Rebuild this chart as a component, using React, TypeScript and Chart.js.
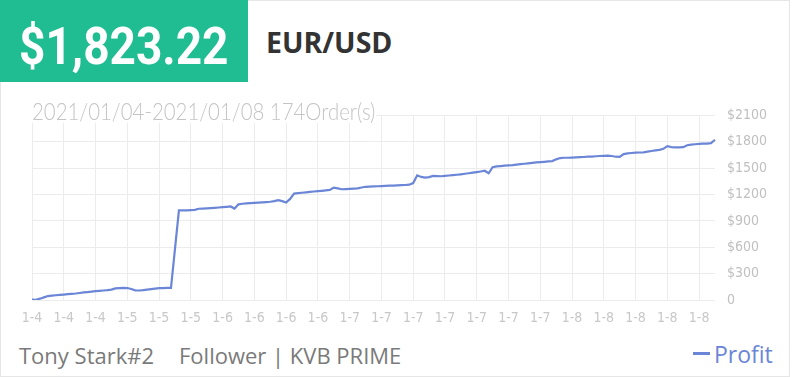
import React, { useEffect, useRef } from "react";
import { Chart, registerables } from "chart.js";

Chart.register(...registerables);

// ---- data ----
const tickLabels = [
  "1-4", "1-4", "1-4", "1-5", "1-5", "1-5", "1-6", "1-6", "1-6", "1-6", "1-7",
  "1-7", "1-7", "1-7", "1-7", "1-7", "1-7", "1-8", "1-8", "1-8", "1-8", "1-8",
];
const pointsPerTick = 8;

const profit = [
  5, 3, 15, 30, 45, 50, 54, 58, 62, 66,
  70, 74, 80, 86, 90, 95, 100, 104, 108, 112,
  118, 132, 136, 137, 136, 125, 110, 108, 112, 118,
  124, 130, 135, 136, 137, 137, 580, 1020, 1020, 1020,
  1022, 1025, 1038, 1040, 1042, 1045, 1048, 1052, 1056, 1060,
  1064, 1040, 1088, 1095, 1099, 1102, 1105, 1107, 1110, 1114,
  1118, 1125, 1135, 1125, 1108, 1150, 1210, 1215, 1220, 1225,
  1230, 1234, 1238, 1242, 1247, 1252, 1278, 1270, 1260, 1262,
  1265, 1268, 1270, 1280, 1288, 1290, 1292, 1294, 1296, 1298,
  1300, 1302, 1304, 1306, 1308, 1312, 1330, 1418, 1400, 1392,
  1398, 1412, 1410, 1408, 1412, 1416, 1420, 1425, 1430, 1436,
  1442, 1448, 1455, 1462, 1470, 1442, 1510, 1520, 1524, 1528,
  1532, 1535, 1540, 1545, 1550, 1555, 1560, 1565, 1568, 1572,
  1576, 1580, 1600, 1615, 1618, 1618, 1620, 1622, 1625, 1627,
  1630, 1632, 1635, 1638, 1640, 1642, 1638, 1630, 1628, 1660,
  1668, 1672, 1676, 1678, 1680, 1688, 1695, 1702, 1708, 1720,
  1750, 1740, 1736, 1736, 1738, 1760, 1768, 1772, 1776, 1778,
  1780, 1785, 1823,
];

const yMin = 0;
const yMax = 2100;
const yStep = 300;

const totalProfit = "$1,823.22";
const symbol = "EUR/USD";
const periodTitle = "2021/01/04-2021/01/08 174Order(s)";
const traderName = "Tony Stark#2";
const accountInfo = "Follower | KVB PRIME";
const seriesName = "Profit";

const pointLabels = profit.map((_, i) => tickLabels[Math.floor(i / pointsPerTick)]);

// ---- styles ----
const green = "#21bd92";
const lineColor = "#6b86d6";
const gridColor = "#ececec";
const narrow = "'DejaVu Sans Condensed', sans-serif";

export default function App() {
  const ref = useRef<HTMLCanvasElement>(null);

  useEffect(() => {
    document.body.style.margin = "0";
    const chart = new Chart(ref.current!, {
      type: "line",
      data: {
        labels: pointLabels,
        datasets: [
          {
            label: seriesName,
            data: profit,
            borderColor: lineColor,
            borderWidth: 2.2,
            pointRadius: 0,
            tension: 0,
            fill: false,
          },
        ],
      },
      options: {
        animation: false,
        responsive: false,
        maintainAspectRatio: false,
        layout: { padding: { left: 32, top: 16, right: 17, bottom: 0 } },
        plugins: { legend: { display: false }, tooltip: { enabled: false } },
        scales: {
          x: {
            grid: { color: gridColor, drawTicks: false },
            border: { display: false },
            ticks: {
              autoSkip: false,
              maxRotation: 0,
              padding: 10,
              color: "#c8c8c8",
              font: { family: narrow, size: 14 },
              callback: (_v: any, i: number) =>
                i % pointsPerTick === 0 ? pointLabels[i] : null,
            },
            afterFit: (s: any) => {
              s.height = 35;
            },
          },
          y: {
            position: "right",
            min: yMin,
            max: yMax,
            grid: { color: gridColor, drawTicks: false },
            border: { display: false },
            ticks: {
              stepSize: yStep,
              padding: 12,
              color: "#c0c0c0",
              font: { family: narrow, size: 14 },
              callback: (v: any) => (v === 0 ? "0" : "$" + v),
            },
            afterFit: (s: any) => {
              s.width = 60;
            },
          },
        },
      },
    });
    return () => chart.destroy();
  }, []);

  return (
    <div style={{ position: "relative", width: 792, height: 377, overflow: "hidden", background: "#fff" }}>
      <div
        style={{
          position: "absolute",
          left: 0,
          top: 0,
          width: 790,
          height: 377,
          boxSizing: "border-box",
          border: "1px solid #e6e6e6",
        }}
      />
      <div style={{ position: "absolute", left: 0, top: 0, width: 248, height: 82, background: green }} />
      <div
        style={{
          position: "absolute",
          left: 19,
          top: 21,
          fontFamily: "Roboto, sans-serif",
          fontWeight: 700,
          fontSize: 52,
          lineHeight: "52px",
          color: "#fff",
          whiteSpace: "nowrap",
          transform: "scaleX(0.885)",
          transformOrigin: "left top",
        }}
      >
        {totalProfit}
      </div>
      <div
        style={{
          position: "absolute",
          left: 266,
          top: 28,
          fontFamily: "'Open Sans', sans-serif",
          fontWeight: 700,
          fontSize: 28.5,
          lineHeight: "28px",
          color: "#333",
          whiteSpace: "nowrap",
        }}
      >
        {symbol}
      </div>
      <canvas
        ref={ref}
        width={792}
        height={240}
        style={{ position: "absolute", left: 0, top: 95, width: 792, height: 240 }}
      />
      <div
        style={{
          position: "absolute",
          left: 31,
          top: 97,
          width: 345,
          height: 26,
          background: "#fff",
        }}
      />
      <div
        style={{
          position: "absolute",
          left: 32,
          top: 98,
          fontFamily: "Lato, sans-serif",
          fontWeight: 300,
          fontSize: 24,
          lineHeight: "26px",
          color: "#c4c4c4",
          whiteSpace: "nowrap",
          transform: "scaleX(0.85)",
          transformOrigin: "left top",
        }}
      >
        {periodTitle}
      </div>
      <div
        style={{
          position: "absolute",
          left: 19,
          top: 344,
          fontFamily: "'Open Sans', sans-serif",
          fontSize: 22,
          lineHeight: "22px",
          color: "#7a7a7a",
          whiteSpace: "nowrap",
        }}
      >
        {traderName}
      </div>
      <div
        style={{
          position: "absolute",
          left: 179,
          top: 344,
          fontFamily: "'Open Sans', sans-serif",
          fontSize: 22,
          lineHeight: "22px",
          color: "#7a7a7a",
          whiteSpace: "nowrap",
        }}
      >
        {accountInfo}
      </div>
      <div style={{ position: "absolute", left: 693, top: 352, width: 17, height: 3, background: lineColor }} />
      <div
        style={{
          position: "absolute",
          left: 714,
          top: 343,
          fontFamily: "'Open Sans', sans-serif",
          fontSize: 23,
          lineHeight: "23px",
          color: lineColor,
          whiteSpace: "nowrap",
        }}
      >
        {seriesName}
      </div>
    </div>
  );
}
